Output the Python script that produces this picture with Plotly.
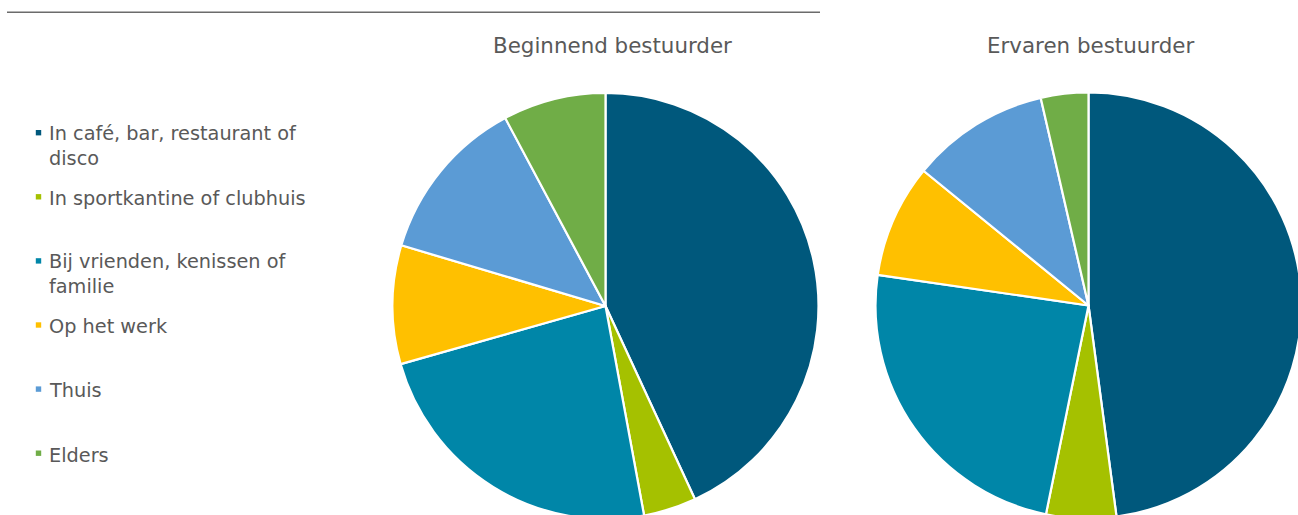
import plotly.graph_objects as go

# ---- data ----
categories = [
    "In café, bar, restaurant of disco",
    "In sportkantine of clubhuis",
    "Bij vrienden, kenissen of familie",
    "Op het werk",
    "Thuis",
    "Elders",
]
legend_labels = [
    "In café, bar, restaurant of<br>disco",
    "In sportkantine of clubhuis",
    "Bij vrienden, kenissen of<br>familie",
    "Op het werk",
    "Thuis",
    "Elders",
]
beginnend = [43.1, 4.0, 23.5, 9.0, 12.6, 7.8]
ervaren = [47.9, 5.3, 24.1, 8.6, 10.5, 3.6]
titles = ["Beginnend bestuurder", "Ervaren bestuurder"]
colors = ["#00587C", "#A5C100", "#0086A8", "#FFC000", "#5B9BD5", "#70AD47"]

# ---- layout (pixels) ----
W, H = 1310, 530
FONT = "DejaVu Sans"
TXT = "#595959"


def px(x):
    return x / W


def py(y):
    return 1 - y / H


def pie_domain(cx, cy, r):
    return dict(x=[px(cx - r), px(cx + r)], y=[py(cy + r), py(cy - r)])


fig = go.Figure()
pies = [(beginnend, (605.5, 306.0, 213.0)), (ervaren, (1088.5, 305.5, 213.0))]
for vals, (cx, cy, r) in pies:
    fig.add_trace(go.Pie(
        labels=categories, values=vals, sort=False, direction="clockwise",
        rotation=0, marker=dict(colors=colors, line=dict(color="white", width=2.2)),
        textinfo="none", hoverinfo="label+percent", showlegend=False,
        domain=pie_domain(cx, cy, r),
    ))

annotations = []
shapes = []
# titles
for t, (cx, cy) in zip(titles, [(612.5, 46), (1090, 46)]):
    annotations.append(dict(text=t, x=px(cx), y=py(cy), xref="paper", yref="paper",
                            xanchor="center", yanchor="middle", showarrow=False,
                            font=dict(family=FONT, size=21.4, color=TXT)))

# custom legend
leg_y0, leg_step, line_sp = 132.7, 64.1, 23.5
for i, (lab, col) in enumerate(zip(legend_labels, colors)):
    sy = leg_y0 + i * leg_step
    shapes.append(dict(type="rect", xref="paper", yref="paper",
                       x0=px(35.8), x1=px(41.2), y0=py(sy + 2.7), y1=py(sy - 2.7),
                       fillcolor=col, line=dict(width=0)))
    nlines = lab.count("<br>") + 1
    cy = sy + 1.8 + (nlines - 1) * line_sp / 2
    annotations.append(dict(text=lab, x=px(47), y=py(cy), xref="paper", yref="paper",
                            xanchor="left", yanchor="middle", align="left", showarrow=False,
                            font=dict(family=FONT, size=19.3, color=TXT)))

# top rule
shapes.append(dict(type="line", xref="paper", yref="paper",
                   x0=px(7), x1=px(820), y0=py(12.3), y1=py(12.3),
                   line=dict(color="#6b6b6b", width=1.4)))

fig.update_layout(
    width=W, height=H, margin=dict(l=0, r=0, t=0, b=0),
    paper_bgcolor="white", plot_bgcolor="white",
    annotations=annotations, shapes=shapes,
)

fig.write_html(
    "out.html",
    config={"displayModeBar": False},
    post_script="document.body.style.margin='0';document.body.style.overflow='hidden';"
                "document.documentElement.style.overflow='hidden';",
)
